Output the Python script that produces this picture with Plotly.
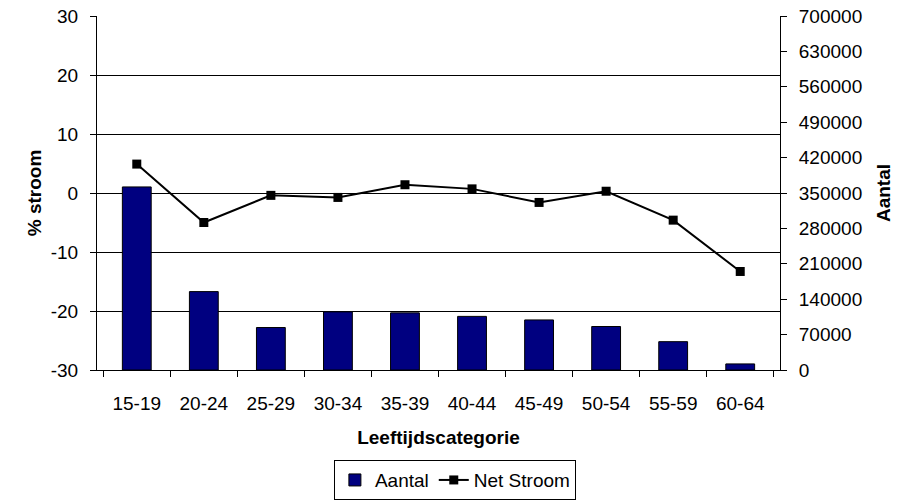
import plotly.graph_objects as go

categories = ["15-19", "20-24", "25-29", "30-34", "35-39", "40-44", "45-49", "50-54", "55-59", "60-64"]
aantal = [362000, 155000, 84000, 115000, 113000, 106000, 99000, 86000, 56000, 12000]
net_stroom = [4.9, -5.0, -0.4, -0.75, 1.4, 0.7, -1.6, 0.3, -4.6, -13.3]
left_ticks = [-30, -20, -10, 0, 10, 20, 30]
left_ticktext = ["-30", "-20", "-10", "0", "10", "20", "30"]
right_ticks = [0, 70000, 140000, 210000, 280000, 350000, 420000, 490000, 560000, 630000, 700000]

FONT = "Liberation Sans, Arial, sans-serif"
FS = 19

fig = go.Figure()
fig.add_trace(go.Bar(
    x=categories, y=aantal, name="Aantal", yaxis="y2",
    marker=dict(color="#000080", line=dict(color="#000000", width=1)),
    width=0.43,
))
fig.add_trace(go.Scatter(
    x=categories, y=net_stroom, name="Net Stroom", yaxis="y",
    mode="lines+markers",
    line=dict(color="#000000", width=2),
    marker=dict(symbol="square", size=9, color="#000000"),
))

fig.update_layout(
    width=910, height=501,
    margin=dict(l=97, r=130, t=16, b=131, autoexpand=False),
    paper_bgcolor="white", plot_bgcolor="white",
    font=dict(family=FONT, size=FS, color="#000000"),
    showlegend=True,
    legend=dict(
        orientation="h", x=0.524, xanchor="center", y=-0.311, yanchor="middle",
        bordercolor="#000000", borderwidth=1, font=dict(size=FS),
        itemwidth=30, tracegroupgap=0,
    ),
    xaxis=dict(
        type="category", automargin=False, showline=True, linecolor="#000000", linewidth=1,
        ticks="outside", tickson="boundaries", ticklen=6, tickcolor="#000000",
        showgrid=False, ticklabelstandoff=16,
        title=dict(text="<b>Leeftijdscategorie</b>", standoff=17, font=dict(size=FS)),
        tickfont=dict(size=FS),
    ),
    yaxis=dict(
        range=[-30, 30], tickvals=left_ticks, ticktext=left_ticktext, side="left",
        automargin=False, showline=True, linecolor="#000000", linewidth=1,
        ticks="outside", ticklen=6, tickcolor="#000000",
        showgrid=True, gridcolor="#000000", gridwidth=1, zeroline=False,
        ticklabelstandoff=8,
        title=dict(text="<b>% stroom</b>", standoff=4, font=dict(size=FS)),
        tickfont=dict(size=FS),
    ),
    yaxis2=dict(
        range=[0, 700000], tickvals=right_ticks, tickformat="d", side="right",
        overlaying="y", automargin=False, showline=True, linecolor="#000000", linewidth=1,
        ticks="outside", ticklen=6, tickcolor="#000000",
        showgrid=False, zeroline=False, ticklabelstandoff=8,
        title=dict(text="<b>Aantal</b>", standoff=15, font=dict(size=FS)),
        tickfont=dict(size=FS),
    ),
)

fig.write_html(
    "out.html",
    config={"displayModeBar": False},
    post_script="document.body.style.margin='0';document.body.style.overflow='hidden';",
)
